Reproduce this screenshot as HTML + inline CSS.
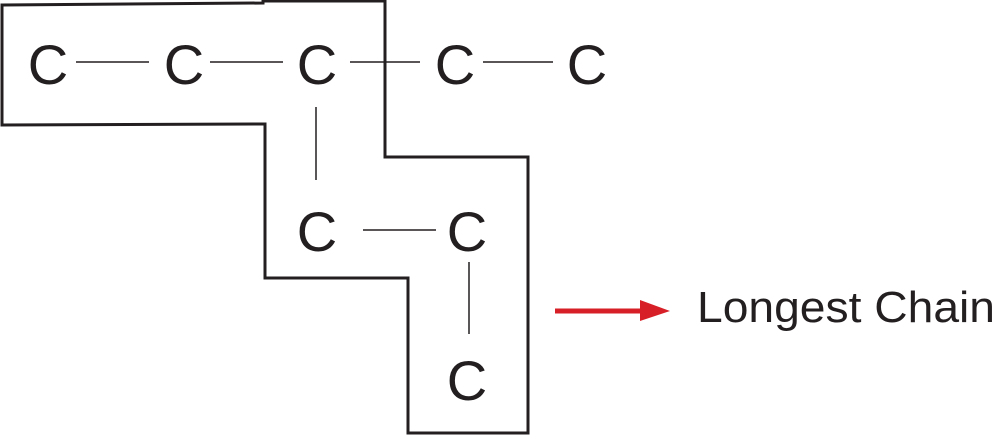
<!DOCTYPE html>
<html><head><meta charset="utf-8"><style>
html,body{margin:0;padding:0;background:#fff;width:1000px;height:436px;overflow:hidden}
</style></head><body>
<svg width="1000" height="436" viewBox="0 0 1000 436" xmlns="http://www.w3.org/2000/svg">
<path d="M2,5 L263,3 L263,1 L385,1 L385,157 L528,157 L528,433 L408,433 L408,278 L265,278 L265,124 L2,125 Z" fill="none" stroke="#231f20" stroke-width="3"/>
<g font-family="Liberation Sans, sans-serif" font-size="56" fill="#231f20" text-anchor="middle">
<text x="48" y="84">C</text>
<text x="184" y="84">C</text>
<text x="317" y="84">C</text>
<text x="455" y="84">C</text>
<text x="587" y="84">C</text>
<text x="317" y="251">C</text>
<text x="467" y="251">C</text>
<text x="467" y="400">C</text>
</g>
<g stroke="#231f20" stroke-width="1.5">
<line x1="76" y1="62" x2="149" y2="62"/>
<line x1="210" y1="62" x2="283" y2="62"/>
<line x1="350" y1="62" x2="420" y2="62"/>
<line x1="483" y1="62" x2="553" y2="62"/>
<line x1="316" y1="107" x2="316" y2="180"/>
<line x1="363" y1="230" x2="436" y2="230"/>
<line x1="469" y1="262" x2="469" y2="334"/>
</g>
<line x1="555" y1="311" x2="642" y2="311" stroke="#d71f27" stroke-width="5"/>
<polygon points="640,300 670,311 640,321" fill="#d71f27"/>
<text x="697" y="322" font-family="Liberation Sans, sans-serif" font-size="44" fill="#231f20" textLength="298" lengthAdjust="spacingAndGlyphs">Longest Chain</text>
</svg>
</body></html>
